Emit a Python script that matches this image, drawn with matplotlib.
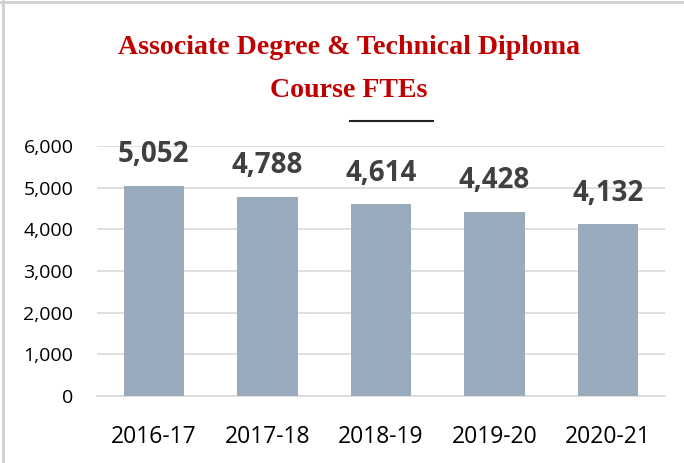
import matplotlib
matplotlib.use("Agg")
import matplotlib.pyplot as plt
from matplotlib.lines import Line2D

categories = ["2016-17", "2017-18", "2018-19", "2019-20", "2020-21"]
values = [5052, 4788, 4614, 4428, 4132]
yticks = [0, 1000, 2000, 3000, 4000, 5000, 6000]
title_line1 = "Associate Degree & Technical Diploma"
title_line2 = "Course FTEs"

fig = plt.figure(figsize=(6.84, 4.63), dpi=100)
ax = fig.add_axes([97/684, 1-396/463, (665-97)/684, (396-146)/463])

x = range(len(categories))
ax.bar(x, values, width=0.53, color="#9AAABD", zorder=3)
ax.set_xlim(-0.5, len(categories)-0.5)
ax.set_ylim(0, 6000)
ax.set_yticks(yticks)
ax.set_yticklabels([f"{v:,}" for v in yticks], fontsize=14, family="Open Sans", color="#000000")
ax.set_xticks(list(x))
ax.set_xticklabels(categories, fontsize=16.5, family="Open Sans", color="#000000")
ax.tick_params(axis="y", length=0, pad=17)
ax.tick_params(axis="x", length=0, pad=21)
ax.grid(axis="y", color="#D9D9D9", linewidth=1.2, zorder=0)
for s in ["top", "right", "left"]:
    ax.spines[s].set_visible(False)
ax.spines["bottom"].set_color("#D9D9D9")
ax.spines["bottom"].set_linewidth(1.2)

for xi, v in zip(x, values):
    ax.annotate(f"{v:,}", xy=(xi, v), xytext=(0, 22), textcoords="offset points",
                ha="center", va="center", fontsize=20, fontweight="bold",
                family="Open Sans", color="#404040")

tfont = dict(family="Liberation Serif", fontweight="bold",
             color="#C00000", fontsize=19, ha="center", va="center")
t1 = fig.text(349/684, 1-47/463, title_line1, **tfont)
t2 = fig.text(349/684, 1-91/463, title_line2, **tfont)
# fit title width to ~460 px
fig.canvas.draw()
r = fig.canvas.get_renderer()
w = t1.get_window_extent(r).width
fs = 19 * 460 / w
t1.set_fontsize(fs)
t2.set_fontsize(fs)
fig.add_artist(Line2D([350/684, 433/684], [1-121/463, 1-121/463], color="#222222", linewidth=1.5))

# frame lines on left and top
fig.add_artist(Line2D([3/684, 3/684], [0, 1], color="#D0D0D0", linewidth=2))
fig.add_artist(Line2D([0, 1], [1-2/463, 1-2/463], color="#D0D0D0", linewidth=2))

fig.savefig("out.png", dpi=100)
